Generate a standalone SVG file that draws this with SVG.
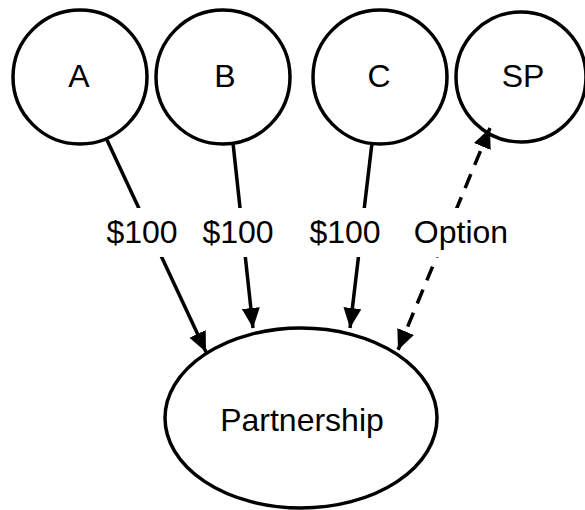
<svg xmlns="http://www.w3.org/2000/svg" width="585" height="510" viewBox="0 0 585 510">
  <style>
    .node { fill: #ffffff; stroke: #000000; stroke-width: 3.5; }
    .label { font-family: "Liberation Sans", Arial, sans-serif; font-size: 32px; fill: #000000; text-anchor: middle; }
    .edge { stroke: #000000; stroke-width: 3.5; fill: none; }
    .dashed { stroke-dasharray: 15 10; }
    .label-bg { fill: #ffffff; stroke: none; }
  </style>
  <defs>
    <marker id="arrow" viewBox="0 0 20 18" refX="20" refY="9" markerWidth="20" markerHeight="18" markerUnits="userSpaceOnUse" orient="auto-start-reverse">
      <path d="M0,0 L20,9 L0,18 Z" fill="#000000"/>
    </marker>
  </defs>

  <rect width="585" height="510" fill="#ffffff"/>

  <g id="node-a">
    <circle class="node" cx="80" cy="77" r="67"/>
    <text class="label" x="79" y="87">A</text>
  </g>
  <g id="node-b">
    <circle class="node" cx="223" cy="77" r="67"/>
    <text class="label" x="225" y="87">B</text>
  </g>
  <g id="node-c">
    <circle class="node" cx="380" cy="77" r="67"/>
    <text class="label" x="379" y="87">C</text>
  </g>
  <g id="node-sp">
    <circle class="node" cx="521" cy="77" r="65"/>
    <text class="label" x="523" y="87">SP</text>
  </g>
  <g id="node-partnership">
    <ellipse class="node" cx="301" cy="418" rx="136" ry="90"/>
    <text class="label" x="302" y="431">Partnership</text>
  </g>

  <g id="connectors">
    <line class="edge" x1="107" y1="140" x2="206" y2="352" marker-end="url(#arrow)"/>
    <line class="edge" x1="233" y1="143" x2="253" y2="328" marker-end="url(#arrow)"/>
    <line class="edge" x1="372" y1="143" x2="350" y2="328" marker-end="url(#arrow)"/>
    <line class="edge dashed" x1="490" y1="128" x2="398" y2="350" marker-start="url(#arrow)" marker-end="url(#arrow)"/>
    <!-- edge labels sit on white plates that break the lines -->
    <rect class="label-bg" x="104" y="208" width="76" height="49"/>
    <rect class="label-bg" x="200" y="208" width="76" height="49"/>
    <rect class="label-bg" x="307" y="208" width="76" height="49"/>
    <rect class="label-bg" x="412" y="208" width="98" height="49"/>
    <text class="label" x="142" y="243">$100</text>
    <text class="label" x="238" y="243">$100</text>
    <text class="label" x="345" y="243">$100</text>
    <text class="label" x="461" y="243">Option</text>
  </g>
</svg>
